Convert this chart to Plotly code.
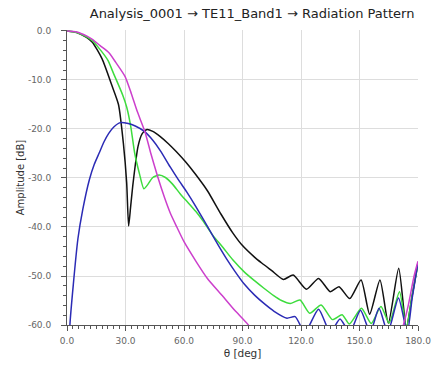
import plotly.graph_objects as go

# ---- data (theta in deg, amplitude in dB) ----
black_theta = [0, 5, 10, 13, 18, 23, 26.4, 28.9, 30.6, 31.6, 32.6, 33.9, 36.4, 38.5, 41, 44, 48, 52, 56, 61, 66, 72, 79, 85, 90, 96, 100, 105, 111, 116, 122.8, 129, 135, 139.5, 145, 150.8, 155.2, 160.5, 164.8, 170.1, 174, 177, 180]
black_amp = [0, -0.3, -1.3, -2.3, -5.7, -11.1, -15.0, -22.9, -31.0, -39.8, -36.0, -31.0, -23.6, -21.0, -20.1, -20.5, -21.6, -23.0, -24.6, -26.8, -29.3, -32.6, -37.4, -41.2, -43.8, -46.1, -47.4, -48.9, -50.7, -49.8, -52.7, -50.5, -53.2, -52.2, -54.6, -50.8, -57.8, -50.8, -59.6, -48.4, -60.5, -54.0, -47.3]

green_theta = [0, 5, 10, 13, 17, 21, 24, 26.4, 28.5, 30.6, 32.7, 34.7, 37.2, 39.4, 41.5, 44, 47.2, 50.5, 54, 58, 62, 66, 70, 74.6, 80, 85, 91, 96, 101, 106, 110, 114.5, 119.5, 124.5, 130.3, 136.1, 141.1, 144.8, 151, 156, 161, 165.2, 170.5, 174, 177, 180]
green_amp = [0, -0.3, -1.2, -2.0, -3.8, -6.0, -8.8, -11.0, -13.0, -15.5, -19.5, -24.9, -29.2, -32.2, -31.3, -29.9, -29.4, -29.9, -31.2, -33.2, -35.0, -36.8, -38.9, -41.6, -44.2, -46.7, -49.2, -50.9, -52.5, -54.0, -55.0, -55.6, -54.9, -57.6, -55.9, -58.9, -57.9, -59.8, -56.6, -59.7, -56.2, -59.6, -53.2, -60.5, -54.0, -47.5]

blue_theta = [1.0, 1.5, 3.2, 5.6, 8.1, 11.5, 14, 16.5, 19, 21.4, 24, 27.3, 31.4, 35, 39.7, 44, 48, 53, 57, 61.3, 66, 72.9, 78, 82, 86.2, 91, 96.2, 101, 106.2, 112.8, 117, 122, 129, 135, 140, 145, 150.5, 155.5, 160, 164.5, 170, 174.5, 177, 180]
blue_amp = [-66, -59.9, -51.9, -42.4, -36.4, -30.3, -27.2, -24.9, -22.6, -20.9, -19.6, -18.7, -18.9, -19.4, -20.5, -22.3, -24.5, -27.8, -30.3, -32.8, -35.8, -40.5, -44.0, -46.6, -49.1, -51.7, -53.9, -55.6, -57.2, -58.6, -58.3, -61.5, -56.8, -61.5, -58.8, -61.5, -57.0, -61.5, -56.6, -61.5, -54.5, -61.5, -54.5, -47.2]

magenta_theta = [0, 5, 10, 13, 17, 21.4, 25, 29.8, 33, 36, 40, 43, 46.4, 50, 53, 56.3, 60, 66.3, 72, 79.6, 86, 93, 96, 170, 172.5, 175, 178, 180]
magenta_amp = [0, -0.2, -1.0, -1.7, -3.0, -4.4, -6.4, -9.3, -12.8, -16.4, -20.6, -25.0, -29.6, -34.0, -37.2, -40.0, -43.0, -47.1, -50.5, -54.0, -57.0, -60.0, -62.0, -63.0, -60.0, -56.0, -50.0, -47.0]

y_ticks = [0, -10, -20, -30, -40, -50, -60]
y_labels = ["0.0", "-10.0", "-20.0", "-30.0", "-40.0", "-50.0", "-60.0"]
x_ticks = [0, 30, 60, 90, 120, 150, 180]
x_labels = ["0.0", "30.0", "60.0", "90.0", "120.0", "150.0", "180.0"]

series = [
    ("black", black_theta, black_amp, "#111111"),
    ("green", green_theta, green_amp, "#3ddc3d"),
    ("blue", blue_theta, blue_amp, "#2b2bb5"),
    ("magenta", magenta_theta, magenta_amp, "#cc3fcc"),
]

fig = go.Figure()
for name, xs, ys, col in series:
    fig.add_trace(go.Scatter(x=xs, y=ys, mode="lines", name=name,
                             line=dict(color=col, width=1.5, shape="spline", smoothing=0.6),
                             showlegend=False))

axis_font = dict(family="DejaVu Sans", size=9, color="#666666")
fig.update_layout(
    width=443, height=369,
    margin=dict(l=67, r=15, t=30, b=42),
    paper_bgcolor="white", plot_bgcolor="white",
    title=dict(text="Analysis_0001 \u2192 TE11_Band1 \u2192 Radiation Pattern",
               x=0.569, xanchor="center", y=0.975, yanchor="top",
               font=dict(family="DejaVu Sans", size=13, color="#222222")),
    xaxis=dict(range=[0, 180], tickvals=x_ticks, ticktext=x_labels,
               showgrid=True, gridcolor="#dddddd", gridwidth=1,
               showline=True, linecolor="#555555", linewidth=1,
               ticks="outside", ticklen=5, tickcolor="#555555",
               minor=dict(dtick=3, ticks="outside", ticklen=3, tickcolor="#555555", showgrid=False),
               tickfont=axis_font, zeroline=False, ticklabelstandoff=2,
               title=dict(text="\u03b8 [deg]", font=dict(family="DejaVu Sans", size=10.5, color="#333333"), standoff=4)),
    yaxis=dict(range=[-60, 0.2], tickvals=y_ticks, ticktext=y_labels,
               showgrid=True, gridcolor="#dddddd", gridwidth=1,
               showline=True, linecolor="#555555", linewidth=1,
               ticks="outside", ticklen=5, tickcolor="#555555",
               minor=dict(dtick=2, ticks="outside", ticklen=3, tickcolor="#555555", showgrid=False),
               tickfont=axis_font, zeroline=False, ticklabelstandoff=8,
               title=dict(text="Amplitude [dB]", font=dict(family="DejaVu Sans", size=10, color="#333333"), standoff=1)),
)

fig.write_html("out.html")
